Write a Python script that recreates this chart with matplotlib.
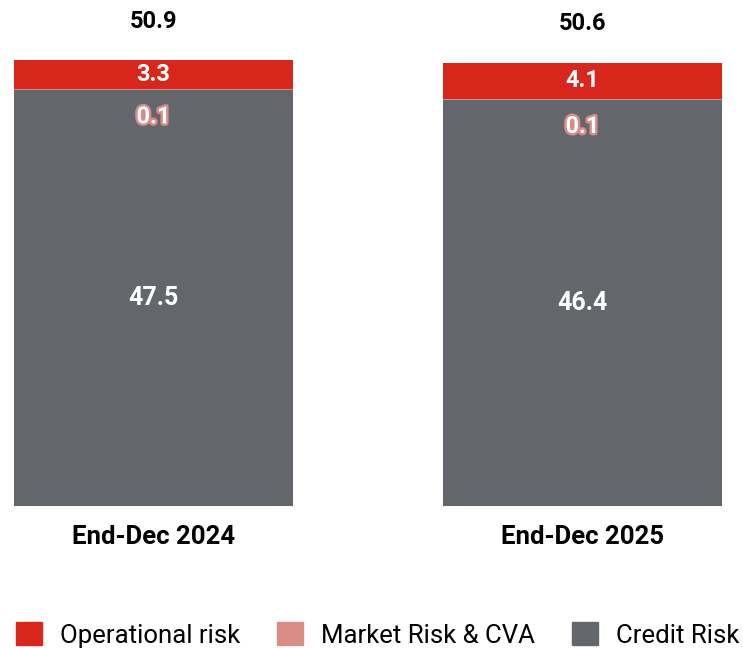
import matplotlib.pyplot as plt
import matplotlib.patheffects as pe
from matplotlib.patches import Patch
import numpy

plt.rcParams['font.family'] = ['Roboto', 'DejaVu Sans']

categories = ['End-Dec 2024', 'End-Dec 2025']
credit_risk = [47.5, 46.4]
market_risk = [0.1, 0.1]
operational_risk = [3.3, 4.1]
totals = [50.9, 50.6]

RED = '#D9261C'
PINK = '#D98B86'
GRAY = '#63666A'

fig = plt.figure(figsize=(7.43, 6.48), dpi=100)
ax = fig.add_axes([0, 1 - 506 / 648, 1, 506 / 648])

x = numpy.arange(len(categories))
width = 0.65
credit = numpy.array(credit_risk)
market = numpy.array(market_risk)
oper = numpy.array(operational_risk)

ax.bar(x, credit, width, color=GRAY, label='Credit Risk')
ax.bar(x, market, width, bottom=credit, color=PINK, label='Market Risk & CVA')
ax.bar(x, oper, width, bottom=credit + market, color=RED, label='Operational risk')

for i in range(len(x)):
    ax.text(x[i], credit[i] / 2, f'{credit[i]:.1f}', ha='center', va='center',
            color='white', fontsize=18, fontweight='bold')
    ax.annotate(f'{market[i]:.1f}', (x[i], credit[i] + market[i]),
                xytext=(0, -20), textcoords='offset points', ha='center', va='center',
                color='white', fontsize=17, fontweight='bold',
                path_effects=[pe.withStroke(linewidth=3.5, foreground=PINK)])
    ax.text(x[i], credit[i] + market[i] + oper[i] / 2, f'{oper[i]:.1f}', ha='center',
            va='center', color='white', fontsize=17, fontweight='bold')
    ax.annotate(f'{totals[i]:.1f}', (x[i], totals[i]), xytext=(0, 28),
                textcoords='offset points', ha='center', va='center',
                color='black', fontsize=17, fontweight='bold')
    ax.annotate(categories[i], (x[i], 0), xytext=(0, -22), textcoords='offset points',
                ha='center', va='center', color='black', fontsize=18.5, fontweight='bold')

ax.set_xlim(-153.5 / 429, (743 - 153.5) / 429)
ax.set_ylim(0, 506 / 8.76)
ax.axis('off')

handles = [Patch(color=RED, label='Operational risk'),
           Patch(color=PINK, label='Market Risk & CVA'),
           Patch(color=GRAY, label='Credit Risk')]
fig.legend(handles=handles, loc='center left', bbox_to_anchor=(16 / 743, 1 - 635 / 648),
           ncol=3, frameon=False, fontsize=18.5, handlelength=1.0, handleheight=1.0,
           columnspacing=1.45, handletextpad=0.7, borderaxespad=0, borderpad=0)

fig.savefig('out.png', dpi=100)
